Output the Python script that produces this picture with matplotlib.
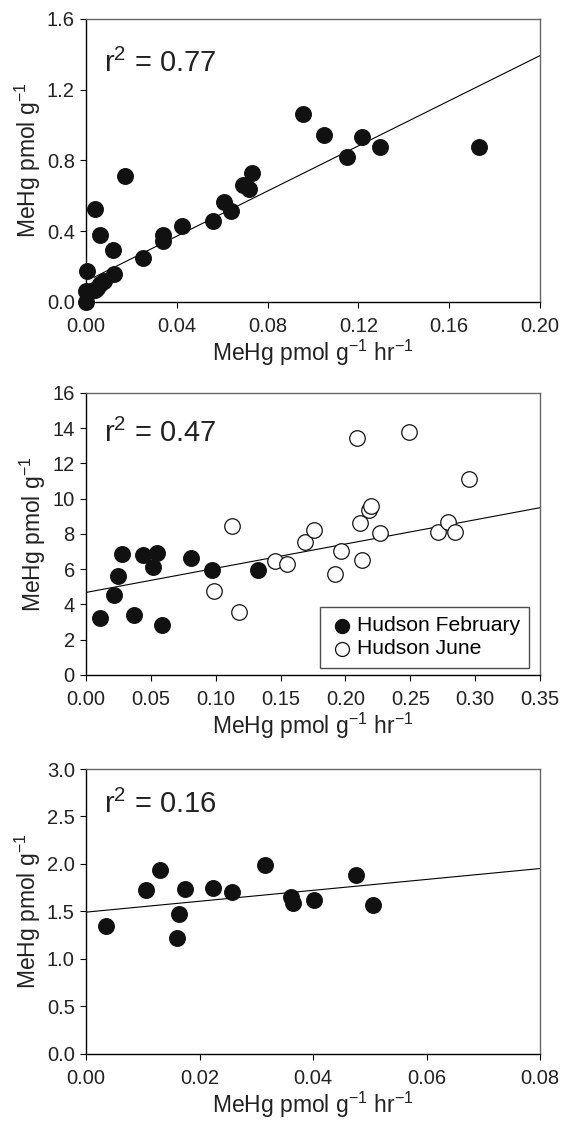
import matplotlib
matplotlib.use("Agg")
import matplotlib.pyplot as plt
import numpy as np

plt.rcParams['font.family'] = ['Liberation Sans', 'DejaVu Sans']
plt.rcParams['mathtext.default'] = 'regular'

# panel 1 - all sites
p1_x = [0.000, 0.000, 0.0003, 0.002, 0.004, 0.005, 0.006, 0.008, 0.0040, 0.0063,
        0.0119, 0.0124, 0.0173, 0.0253, 0.0337, 0.0340, 0.0424, 0.0559, 0.0607,
        0.0637, 0.0692, 0.0719, 0.0733, 0.0956, 0.1050, 0.1148, 0.1216, 0.1294, 0.1732]
p1_y = [0.00, 0.062, 0.177, 0.06, 0.07, 0.08, 0.10, 0.12, 0.528, 0.379,
        0.296, 0.156, 0.712, 0.247, 0.381, 0.347, 0.430, 0.458, 0.567,
        0.516, 0.661, 0.637, 0.727, 1.063, 0.944, 0.818, 0.933, 0.874, 0.874]
p1_fit = (6.38, 0.117)      # slope, intercept
p1_fit_x = [0.0035, 0.20]

# panel 2 - Hudson
feb_x = [0.0111, 0.0213, 0.0249, 0.0277, 0.0369, 0.0438, 0.0513, 0.0551, 0.0587,
         0.0809, 0.0973, 0.1322]
feb_y = [3.23, 4.55, 5.64, 6.87, 3.38, 6.81, 6.11, 6.94, 2.81, 6.62, 5.98, 5.98]
jun_x = [0.0989, 0.1122, 0.1181, 0.1458, 0.1546, 0.1690, 0.1754, 0.1920, 0.1965,
         0.2089, 0.2109, 0.2128, 0.2181, 0.2197, 0.2270, 0.2491, 0.2713, 0.2788,
         0.2846, 0.2954]
jun_y = [4.75, 8.47, 3.57, 6.47, 6.30, 7.57, 8.21, 5.75, 7.04, 13.42, 8.64, 6.51,
         9.36, 9.58, 8.04, 13.79, 8.13, 8.68, 8.13, 11.09]
p2_fit = (13.74, 4.68)
p2_fit_x = [0.0, 0.35]

# panel 3
p3_x = [0.00348, 0.01064, 0.01298, 0.01640, 0.01609, 0.01748, 0.02236, 0.02565,
        0.03148, 0.03604, 0.03642, 0.04022, 0.04763, 0.05048]
p3_y = [1.345, 1.729, 1.934, 1.472, 1.221, 1.733, 1.751, 1.705, 1.987, 1.652,
        1.592, 1.624, 1.885, 1.567]
p3_fit = (5.74, 1.493)
p3_fit_x = [0.0, 0.08]

r2_labels = ['0.77', '0.47', '0.16']

fig = plt.figure(figsize=(5.62, 11.21), dpi=100)
ax1 = fig.add_axes([0.153, 0.7306, 0.808, 0.2525])
ax2 = fig.add_axes([0.153, 0.3979, 0.808, 0.2516])
ax3 = fig.add_axes([0.153, 0.0598, 0.808, 0.2542])

ms = 125


def style_axes(ax, xmax, ymax, xstep, ystep, xfmt, yfmt):
	ax.set_xlim(0, xmax)
	ax.set_ylim(0, ymax)
	ax.set_xticks(np.arange(0, xmax + xstep / 2, xstep))
	ax.set_yticks(np.arange(0, ymax + ystep / 2, ystep))
	ax.set_xticklabels([xfmt % v for v in ax.get_xticks()])
	ax.set_yticklabels([yfmt % v for v in ax.get_yticks()])
	ax.tick_params(direction='out', length=4.5, width=0.8, labelsize=14.5,
	               color='black', labelcolor='#222222')
	ax.tick_params(axis='x', pad=6.5)
	ax.tick_params(axis='y', pad=3.5)
	ax.spines['left'].set_color('black')
	ax.spines['bottom'].set_color('black')
	ax.spines['top'].set_color('#666666')
	ax.spines['right'].set_color('#666666')
	for s in ax.spines.values():
		s.set_linewidth(1.0)
	ax.set_xlabel('MeHg pmol g$^{-1}$ hr$^{-1}$', fontsize=16.5, color='#222222', labelpad=1)
	ax.set_ylabel('MeHg pmol g$^{-1}$', fontsize=16.5, color='#222222', labelpad=3)


def fit_line(ax, fit, xr):
	xs = np.array(xr)
	ax.plot(xs, fit[0] * xs + fit[1], color='black', lw=0.8, zorder=2)


fit_line(ax1, p1_fit, p1_fit_x)
ax1.scatter(p1_x, p1_y, s=ms, color='#111111', zorder=3, clip_on=False)
style_axes(ax1, 0.20, 1.6, 0.04, 0.4, '%.2f', '%.1f')
ax1.text(0.04, 0.843, 'r$^2$ = ' + r2_labels[0], transform=ax1.transAxes,
         fontsize=21, va='center', ha='left', color='#222222')

fit_line(ax2, p2_fit, p2_fit_x)
ax2.scatter(feb_x, feb_y, s=ms, color='#111111', zorder=3, label='Hudson February')
ax2.scatter(jun_x, jun_y, s=ms, facecolor='white', edgecolor='#111111', linewidth=0.9,
            zorder=3, label='Hudson June')
style_axes(ax2, 0.35, 16, 0.05, 2, '%.2f', '%d')
ax2.text(0.04, 0.857, 'r$^2$ = ' + r2_labels[1], transform=ax2.transAxes,
         fontsize=21, va='center', ha='left', color='#222222')
leg = ax2.legend(loc='lower right', bbox_to_anchor=(0.976, 0.025), borderaxespad=0,
                 fontsize=15.2, frameon=True, fancybox=False, edgecolor='#222222',
                 handletextpad=0.1, borderpad=0.45, labelspacing=0.2, markerscale=0.9,
                 handlelength=1.2)
leg.get_frame().set_linewidth(1.0)

fit_line(ax3, p3_fit, p3_fit_x)
ax3.scatter(p3_x, p3_y, s=ms, color='#111111', zorder=3)
style_axes(ax3, 0.08, 3.0, 0.02, 0.5, '%.2f', '%.1f')
ax3.text(0.04, 0.877, 'r$^2$ = ' + r2_labels[2], transform=ax3.transAxes,
         fontsize=21, va='center', ha='left', color='#222222')

fig.savefig('out.png', dpi=100)
